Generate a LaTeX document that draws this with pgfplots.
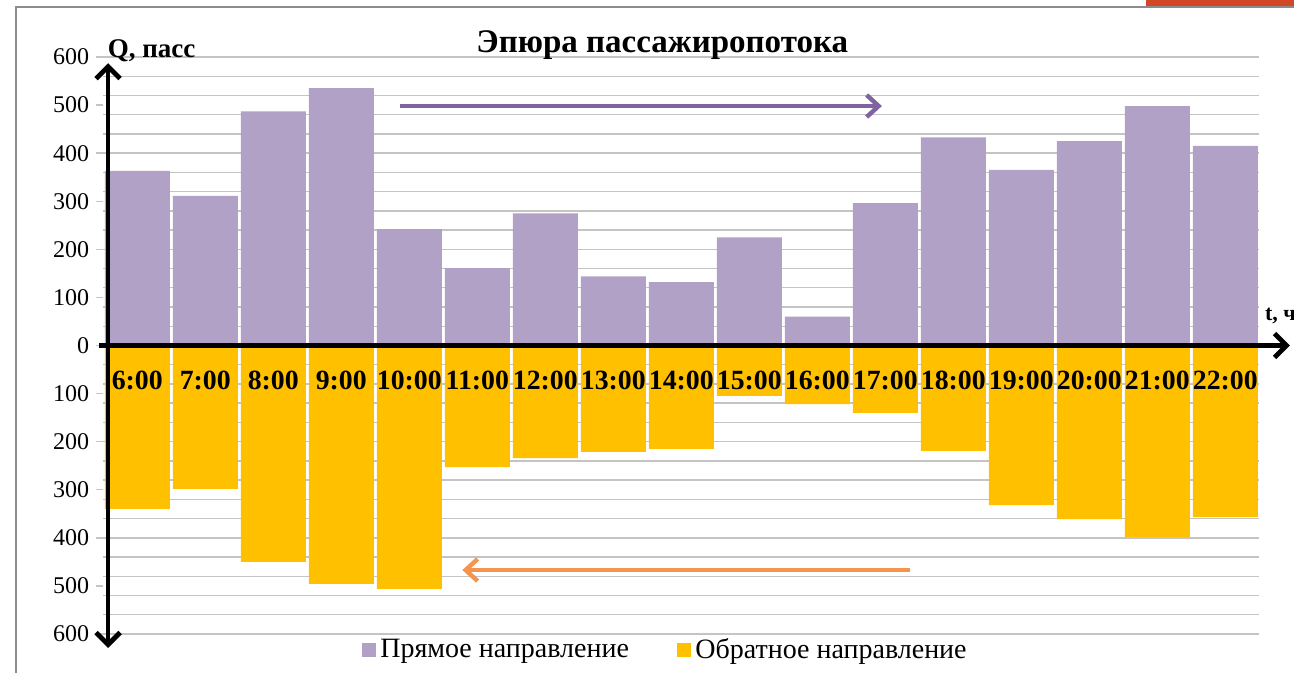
\documentclass[border=0pt]{standalone}
\usepackage{fontspec}
\setmainfont{Liberation Serif}
\usepackage{pgfplots}
\pgfplotsset{compat=1.18}
\usetikzlibrary{arrows.meta}
\definecolor{barpurple}{HTML}{B2A1C7}
\definecolor{baryellow}{HTML}{FFC000}
\definecolor{arrpurple}{HTML}{7F63A1}
\definecolor{arrorange}{HTML}{F5944E}
\definecolor{gridgrey}{HTML}{C4C4C4}
\definecolor{framegrey}{HTML}{8C8C8C}
\definecolor{slideorange}{HTML}{D24726}
\begin{document}
\begin{tikzpicture}
\path[use as bounding box] (0,0) rectangle (647pt,336.5pt);
\fill[slideorange] (573pt,333pt) rectangle (647pt,336.5pt);
\draw[framegrey, line width=0.9pt] (8pt,0pt) -- (8pt,333pt) -- (647pt,333pt);
\begin{axis}[
  at={(51.65pt,19.5pt)}, anchor=south west,
  scale only axis, width=578pt, height=288.5pt,
  xmin=-0.5, xmax=16.5, ymin=-600, ymax=600,
  ybar, bar width=0.956, bar shift=0pt,
  axis line style={draw=none},
  xtick=\empty,
  ytick={-600,-500,...,600},
  yticklabels={600,500,400,300,200,100,0,100,200,300,400,500,600},
  minor ytick={-600,-560,...,600},
  yminorgrids,
  minor grid style={gridgrey, line width=0.7pt},
  tick align=outside, ytick pos=left,
  major tick length=3.5pt, minor tick length=0pt,
  y tick style={gridgrey, line width=0.7pt},
  yticklabel style={font=\fontsize{12}{14}\selectfont, xshift=0pt},
  clip=false,
  legend style={at={(0.487,-0.028)}, anchor=center, draw=none, fill=none,
    legend columns=2, font=\fontsize{14}{16}\selectfont,
    /tikz/every even column/.append style={column sep=22pt}},
  legend image code/.code={\fill[#1] (0pt,-3.6pt) rectangle (7.2pt,3.6pt);},
]
\addplot[fill=barpurple, draw=none] coordinates {
(0,363) (1,311) (2,487) (3,535) (4,242) (5,161) (6,275) (7,144) (8,132)
(9,225) (10,60) (11,296) (12,433) (13,365) (14,425) (15,498) (16,415)};
\addlegendentry{Прямое направление}
\addplot[fill=baryellow, draw=none] coordinates {
(0,-340) (1,-298) (2,-450) (3,-496) (4,-506) (5,-253) (6,-234) (7,-221) (8,-215)
(9,-105) (10,-122) (11,-140) (12,-219) (13,-332) (14,-361) (15,-398) (16,-357)};
\addlegendentry{Обратное направление}
% axes arrows
\draw[black, line width=2.4pt, {Straight Barb[length=6pt,width=12pt]}-{Straight Barb[length=6pt,width=12pt]}]
  (axis cs:-0.43,-629) -- (axis cs:-0.43,587);
\draw[black, line width=2.4pt, -{Straight Barb[length=6pt,width=12pt]}]
  (axis cs:-0.563,0) -- (axis cs:16.95,0);
% direction arrows
\draw[arrpurple, line width=2.2pt, -{Straight Barb[length=6pt,width=11pt]}]
  (axis cs:3.86,498) -- (axis cs:10.95,498);
\draw[arrorange, line width=2.2pt, -{Straight Barb[length=6pt,width=11pt]}]
  (axis cs:11.36,-467) -- (axis cs:4.78,-467);
% texts
\node[font=\bfseries\fontsize{16.5}{18}\selectfont] at (axis cs:7.72,625) {Эпюра пассажиропотока};
\node[font=\bfseries\fontsize{13.5}{15}\selectfont, anchor=west, inner sep=0pt] at (axis cs:-0.44,614) {Q, пасс};
\node[font=\bfseries\fontsize{11}{13}\selectfont, anchor=west, inner sep=0pt] at (axis cs:16.58,62) {t, ч};
\tikzset{catlab/.style={font=\bfseries\fontsize{13.9}{15}\selectfont, inner sep=0pt}}
\node[catlab] at (axis cs:0,-72) {6:00};
\node[catlab] at (axis cs:1,-72) {7:00};
\node[catlab] at (axis cs:2,-72) {8:00};
\node[catlab] at (axis cs:3,-72) {9:00};
\node[catlab] at (axis cs:4,-72) {10:00};
\node[catlab] at (axis cs:5,-72) {11:00};
\node[catlab] at (axis cs:6,-72) {12:00};
\node[catlab] at (axis cs:7,-72) {13:00};
\node[catlab] at (axis cs:8,-72) {14:00};
\node[catlab] at (axis cs:9,-72) {15:00};
\node[catlab] at (axis cs:10,-72) {16:00};
\node[catlab] at (axis cs:11,-72) {17:00};
\node[catlab] at (axis cs:12,-72) {18:00};
\node[catlab] at (axis cs:13,-72) {19:00};
\node[catlab] at (axis cs:14,-72) {20:00};
\node[catlab] at (axis cs:15,-72) {21:00};
\node[catlab] at (axis cs:16,-72) {22:00};
\end{axis}
\end{tikzpicture}
\end{document}
